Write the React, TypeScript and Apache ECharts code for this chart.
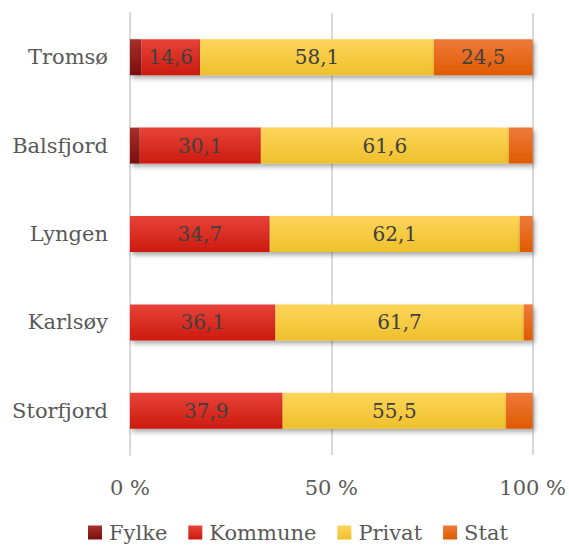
import React, { useEffect, useRef } from "react";
import * as echarts from "echarts";

const categories = ["Tromsø", "Balsfjord", "Lyngen", "Karlsøy", "Storfjord"];
const fylke = [2.8, 2.4, 0, 0, 0];
const kommune = [14.6, 30.1, 34.7, 36.1, 37.9];
const privat = [58.1, 61.6, 62.1, 61.7, 55.5];
const stat = [24.5, 5.9, 3.2, 2.2, 6.6];
const xTicks = [0, 50, 100];

const FONT = "'DejaVu Serif', Georgia, serif";

const grad = (top: string, bottom: string) =>
  new echarts.graphic.LinearGradient(0, 0, 0, 1, [
    { offset: 0, color: top },
    { offset: 1, color: bottom },
  ]);

export default function App() {
  const ref = useRef<HTMLDivElement>(null);
  useEffect(() => {
    if (!ref.current) return;
    const chart = echarts.init(ref.current, undefined, { renderer: "svg" });
    const fmt = (p: any) => Number(p.value).toFixed(1).replace(".", ",");
    const mk = (
      name: string,
      vals: number[],
      top: string,
      bottom: string,
      labelMin: number
    ) => ({
      name,
      type: "bar",
      stack: "total",
      barWidth: 36,
      data: vals.map((v) => ({ value: v, label: { show: v >= labelMin } })),
      itemStyle: {
        color: grad(top, bottom),
        shadowColor: "rgba(0,0,0,0.35)",
        shadowBlur: 5,
        shadowOffsetX: 2,
        shadowOffsetY: 3,
      },
      label: {
        position: "inside",
        formatter: fmt,
        color: "#404040",
        fontFamily: FONT,
        fontSize: 20,
      },
    });
    chart.setOption({
      animation: false,
      textStyle: { fontFamily: FONT },
      grid: { left: 130, right: 34, top: 13, bottom: 90, containLabel: false },
      legend: {
        top: 522,
        left: 88,
        padding: 0,
        itemWidth: 14,
        itemHeight: 14,
        itemGap: 21,
        icon: "rect",
        textStyle: { fontFamily: FONT, fontSize: 21, color: "#595959", padding: [0, 0, 0, 2] },
        data: ["Fylke", "Kommune", "Privat", "Stat"],
      },
      xAxis: {
        type: "value",
        min: xTicks[0],
        max: xTicks[xTicks.length - 1],
        interval: 50,
        axisLine: { show: false },
        axisTick: { show: false },
        splitLine: { show: true, lineStyle: { color: "#d9d9d9", width: 2 } },
        axisLabel: {
          formatter: "{value} %",
          color: "#595959",
          fontFamily: FONT,
          fontSize: 21,
          margin: 22,
        },
      },
      yAxis: {
        type: "category",
        inverse: true,
        data: categories,
        axisLine: { show: true, lineStyle: { color: "#d9d9d9", width: 2 } },
        axisTick: { show: false },
        axisLabel: {
          color: "#595959",
          fontFamily: FONT,
          fontSize: 21,
          margin: 22,
        },
      },
      series: [
        mk("Fylke", fylke, "#a8302a", "#7a0e0e", 1000),
        mk("Kommune", kommune, "#e8433a", "#cc1a0e", 0),
        mk("Privat", privat, "#fdd55a", "#efc02c", 0),
        mk("Stat", stat, "#ee7a3a", "#e05a00", 10),
      ],
    });
    return () => chart.dispose();
  }, []);
  return (
    <div
      ref={ref}
      style={{ position: "absolute", left: 0, top: 0, width: 569, height: 545 }}
    />
  );
}
